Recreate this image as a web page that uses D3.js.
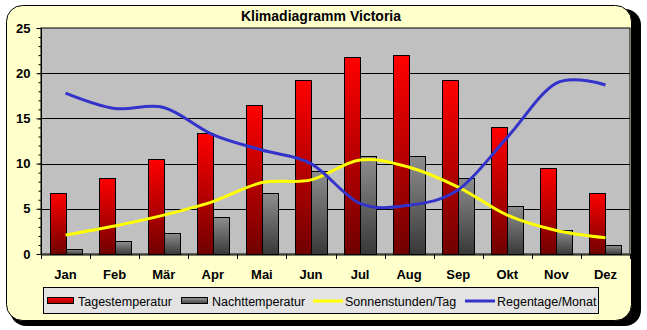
<!DOCTYPE html>
<html><head><meta charset="utf-8">
<script src="https://cdn.jsdelivr.net/npm/d3@7"></script>
<style>body{margin:0;background:#fff}svg{display:block}</style>
</head><body>
<svg id="c" width="647" height="330"></svg>
<script>
const months = ["Jan","Feb","Mär","Apr","Mai","Jun","Jul","Aug","Sep","Okt","Nov","Dez"];
const tagesTemp = [6.8,8.4,10.5,13.4,16.5,19.2,21.8,22.0,19.3,14.1,9.5,6.8];
const nachtTemp = [0.6,1.4,2.3,4.1,6.8,9.2,10.8,10.8,8.4,5.3,2.6,1.0];
const sonne = [2.1,3.1,4.3,5.8,7.9,8.2,10.4,9.6,7.4,4.3,2.6,1.8];
const regen = [17.8,16.1,16.2,13.2,11.5,10.0,5.6,5.4,7.1,12.9,18.9,18.7];
const yTicks = [0,5,10,15,20,25];
const title = "Klimadiagramm Victoria";
const legendLabels = ["Tagestemperatur","Nachttemperatur","Sonnenstunden/Tag","Regentage/Monat"];

const svg = d3.select("#c");
const defs = svg.append("defs");
function grad(id, c1, c2){
  const g = defs.append("linearGradient").attr("id",id).attr("x1",0).attr("y1",0).attr("x2",0).attr("y2",1);
  g.append("stop").attr("offset","0%").attr("stop-color",c1);
  g.append("stop").attr("offset","100%").attr("stop-color",c2);
}
grad("gRed","#ff0000","#700000");
grad("gGray","#8e8e8e","#383838");
grad("lRed","#ff0000","#a00000");
grad("lGray","#9a9a9a","#444444");

// outer frame with shadow
svg.append("rect").attr("x",10).attr("y",9).attr("width",631).attr("height",317).attr("rx",16).attr("fill","#000");
svg.append("rect").attr("x",6.5).attr("y",5.5).attr("width",625).attr("height",315).attr("rx",16)
  .attr("fill","#ffffcc").attr("stroke","#000").attr("stroke-width",1);

const L = 41, R = 630, T = 28, B = 254;
const x = d3.scaleBand().domain(months).range([L,R]).paddingInner(0).paddingOuter(0);
const y = d3.scaleLinear().domain([0,25]).range([B,T]);
const ff = "Liberation Sans, Arial, sans-serif";

svg.append("rect").attr("x",L).attr("y",T).attr("width",R-L).attr("height",B-T)
  .attr("fill","#c0c0c0").attr("stroke","#000").attr("stroke-width",1);

// grid
svg.append("g").selectAll("line").data(yTicks.filter(d=>d>0 && d<25)).join("line")
  .attr("x1",L).attr("x2",R).attr("y1",d=>Math.round(y(d))+0.5).attr("y2",d=>Math.round(y(d))+0.5)
  .attr("stroke","#000").attr("stroke-width",1);

// y axis
const yAxis = d3.axisLeft(y).tickValues(yTicks).tickSize(5).tickFormat(d3.format("d"));
const ya = svg.append("g").attr("transform",`translate(${L+0.5},0)`).call(yAxis);
ya.select(".domain").remove();
ya.selectAll(".tick text").attr("font-family",ff).attr("font-weight","bold")
  .attr("font-size","13px").attr("fill","#000").attr("x",-11);
const yMinor = d3.axisLeft(y).tickValues(d3.range(0,26)).tickSize(3).tickFormat("");
const ym = svg.append("g").attr("transform",`translate(${L+0.5},0)`).call(yMinor);
ym.select(".domain").remove();
svg.append("line").attr("x1",L+0.5).attr("x2",L+0.5).attr("y1",T).attr("y2",B).attr("stroke","#000");

// x axis
const xa = svg.append("g").attr("transform",`translate(0,${B+0.5})`).call(d3.axisBottom(x).tickSize(0).tickPadding(15));
xa.select(".domain").attr("stroke","#000");
xa.selectAll(".tick text").attr("font-family",ff).attr("font-weight","bold")
  .attr("font-size","13px").attr("fill","#000");
svg.append("g").selectAll("line").data(months.concat(["_end"])).join("line")
  .attr("x1",(d,i)=>Math.round(L+i*x.bandwidth())+0.5).attr("x2",(d,i)=>Math.round(L+i*x.bandwidth())+0.5)
  .attr("y1",B).attr("y2",B+5).attr("stroke","#000");

// bars
const bw = 16;
const cx = d => x(d) + x.bandwidth()/2;
svg.append("g").selectAll("rect").data(months).join("rect")
  .attr("x",d=>Math.round(cx(d))-bw+0.5).attr("width",bw)
  .attr("y",(d,i)=>Math.round(y(tagesTemp[i]))+0.5).attr("height",(d,i)=>B-Math.round(y(tagesTemp[i])))
  .attr("fill","url(#gRed)").attr("stroke","#000").attr("stroke-width",1);
svg.append("g").selectAll("rect").data(months).join("rect")
  .attr("x",d=>Math.round(cx(d))+0.5).attr("width",bw)
  .attr("y",(d,i)=>Math.round(y(nachtTemp[i]))+0.5).attr("height",(d,i)=>B-Math.round(y(nachtTemp[i])))
  .attr("fill","url(#gGray)").attr("stroke","#000").attr("stroke-width",1);

// lines
const line = d3.line().x((d,i)=>cx(months[i])).y(d=>y(d)).curve(d3.curveCardinal.tension(0));
svg.append("path").datum(sonne).attr("d",line).attr("fill","none").attr("stroke","#ffff00").attr("stroke-width",3);
svg.append("path").datum(regen).attr("d",line).attr("fill","none").attr("stroke","#3333cc").attr("stroke-width",3);

// title
svg.append("text").attr("x",321).attr("y",21).attr("text-anchor","middle")
  .attr("font-family",ff).attr("font-weight","bold").attr("font-size","14px").text(title);

// legend
svg.append("rect").attr("x",43.5).attr("y",287.5).attr("width",555).attr("height",26).attr("fill","#e3e3e3").attr("stroke","#000");
const ly = 301;
const items = [
  {type:"rect",fill:"url(#lRed)",sx:47,tx:78},
  {type:"rect",fill:"url(#lGray)",sx:181,tx:212},
  {type:"line",stroke:"#ffff00",sx:313,tx:345},
  {type:"line",stroke:"#3333cc",sx:465,tx:497}
];
const lgG = svg.append("g");
items.forEach((it,i)=>{
  if(it.type==="rect"){
    lgG.append("rect").attr("x",it.sx+0.5).attr("y",ly-3.5).attr("width",26).attr("height",6).attr("fill",it.fill).attr("stroke","#000");
  } else {
    lgG.append("line").attr("x1",it.sx).attr("x2",it.sx+30).attr("y1",ly).attr("y2",ly).attr("stroke",it.stroke).attr("stroke-width",3);
  }
  lgG.append("text").attr("x",it.tx).attr("y",ly+5).attr("font-family",ff).attr("font-size","12.5px").text(legendLabels[i]);
});
</script>
</body></html>
